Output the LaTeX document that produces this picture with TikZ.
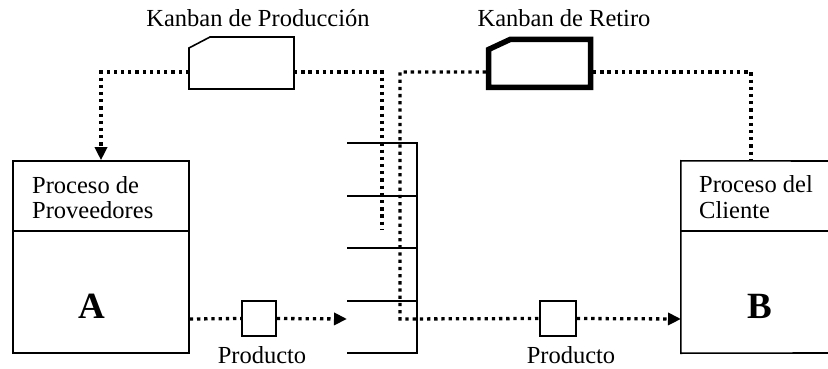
\documentclass[tikz,border=0pt]{standalone}
\usepackage{fontspec}
\setmainfont{Liberation Serif}
\usetikzlibrary{arrows.meta}
\begin{document}
\begin{tikzpicture}[x=1pt,y=-1pt,
  thin line/.style={line width=1.6pt},
  dotline/.style={line width=3.3pt,dash pattern=on 3.3pt off 3.9pt},
  dotarrow/.style={dotline,-{Triangle[length=13pt,width=12pt]}},
  label/.style={inner sep=0pt,anchor=base,font=\fontsize{24.5}{27}\selectfont},
  boxlabel/.style={inner sep=0pt,anchor=base west,font=\fontsize{24.5}{27}\selectfont},
  big/.style={inner sep=0pt,anchor=base,font=\fontsize{37}{40}\selectfont\bfseries},
  procbox/.style={draw,thin line,inner sep=0pt},
  prodbox/.style={draw,thin line,inner sep=0pt,minimum width=35pt,minimum height=35pt}
]
\useasboundingbox (0,0) rectangle (828,369);

% process boxes
\node[procbox,minimum width=176pt,minimum height=192pt] (A) at (101,257) {};
\draw[thin line] (A.west |- 0,231) -- (A.east |- 0,231);
\node[inner sep=0pt,minimum width=170pt,minimum height=192pt] (B) at (766,257) {};
\draw[thin line] (828,161) -- (B.north west) -- (B.south west) -- (828,353);
\draw[thin line] (B.west |- 0,231) -- (828,231);

\node[boxlabel] (a1) at (32,193) {Proceso de};
\node[boxlabel] (a2) at (32,218) {Proveedores};
\node[big] (aA) at (91.5,318) {A};
\node[boxlabel] (b1) at (699,192) {Proceso del};
\node[boxlabel] (b2) at (699,218) {Cliente};
\node[big] (bB) at (760,318) {B};

% kanban cards
\draw[thin line] (189,48) -- (210,37) -- (294,37) -- (294,89) -- (189,89) -- cycle;
\coordinate (kpL) at (189,72);
\coordinate (kpR) at (294,72);
\node[label] (kpT) at (258,27) {Kanban de Producción};

\draw[line width=5.5pt,line join=miter] (488.5,49.5) -- (510,39.5) -- (590.5,39.5) -- (590.5,87.5) -- (488.5,87.5) -- cycle;
\coordinate (krL) at (486,72);
\coordinate (krR) at (593,72);
\node[label] (krT) at (564,27) {Kanban de Retiro};

% store rack
\draw[thin line] (347,143) -- (417,143) -- (417,353) -- (347,353);
\foreach \yy in {196,248,301} \draw[thin line] (347,\yy) -- (417,\yy);

% product boxes
\node[prodbox,minimum width=34pt] (p1) at (259,318.5) {};
\node[prodbox,minimum width=36pt] (p2) at (558,318.5) {};
\node[label] (pt1) at (262,363) {Producto};
\node[label] (pt2) at (571,363) {Producto};

% connectors
\coordinate (pend) at (382,229);
\coordinate (rackin) at (347,319);
\coordinate (bin) at (681,319);
\coordinate (turn) at (400,319);

\draw[dotarrow] (kpL) -| (A.north);
\draw[dotline] (kpR) -| (pend);
\draw[dotline] (krL) -| (turn) -- (p2.west);
\draw[dotarrow] (p2.east) -- (bin);
\draw[dotline] (krR) -| (B.north -| 751,0);
\draw[dotline] (A.east |- 0,319) -- (p1.west);
\draw[dotarrow] (p1.east) -- (rackin);
\end{tikzpicture}
\end{document}
